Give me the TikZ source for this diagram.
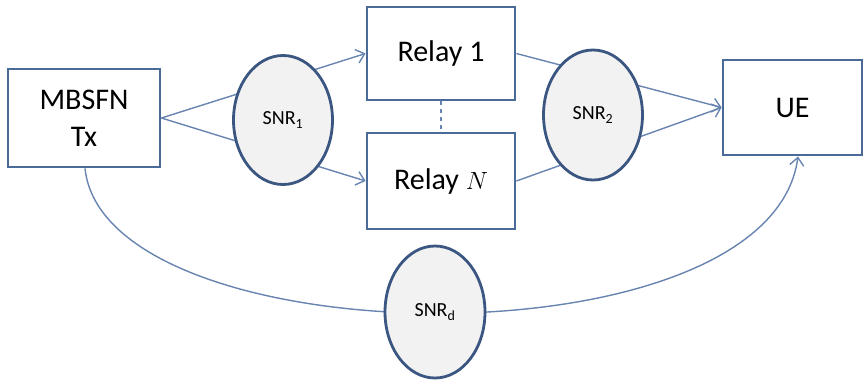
\documentclass[tikz,border=0pt]{standalone}
\usepackage{fontspec}
\setmainfont{Carlito}
\usetikzlibrary{shapes.geometric,arrows.meta,positioning}
\definecolor{boxblue}{HTML}{4A6A9A}
\definecolor{rimblue}{HTML}{3C5682}
\definecolor{linkblue}{HTML}{6884B0}
\definecolor{snrgray}{HTML}{F2F2F2}

\begin{document}
\begin{tikzpicture}[x=1pt, y=-1pt,
    box/.style={draw=boxblue, line width=2.8pt, fill=white, align=center, font=\fontsize{30}{37}\selectfont},
    channel/.style={ellipse, draw=rimblue, line width=2.8pt, fill=snrgray, inner sep=0pt, font=\fontsize{20}{24}\selectfont},
    link/.style={draw=linkblue, line width=1.4pt},
    tip/.style={-{Straight Barb[length=8pt, width=14pt]}}]
    \useasboundingbox (0,0) rectangle (864,380);

    % transmitter, relays and receiver
    \node[box, minimum width=152pt, minimum height=98pt] (tx) at (84,118) {MBSFN\\Tx};
    \node[box, minimum width=148pt, minimum height=93pt] (relay1) at (441,53.5) {Relay 1};
    \node[box, minimum width=148pt, minimum height=96pt] (relayN) at (441,181) {Relay $N$};
    \node[box, minimum width=139pt, minimum height=95pt] (ue) at (792.5,107.5) {UE};

    % links, the SNR bubbles sit on top of them
    \foreach \r in {relay1, relayN} {
        \draw[link, tip] (tx.east) -- (\r.west);
        \draw[link, tip] (\r.east) -- (ue.west);
    }
    \draw[link, dash pattern=on 4pt off 4pt] (relay1) -- (relayN);
    \draw[link, tip] ([xshift=1pt]tx.south) .. controls +(20,190) and +(-28,212) .. ([xshift=5.5pt]ue.south);

    \node[channel, minimum width=99pt, minimum height=129pt] (snr1) at (283,120) {SNR\textsubscript{1}};
    \node[channel, minimum width=99pt, minimum height=130pt] (snr2) at (593,115) {SNR\textsubscript{2}};
    \node[channel, minimum width=100pt, minimum height=132pt] (snrd) at (435,312) {SNR\textsubscript{d}};
\end{tikzpicture}
\end{document}
